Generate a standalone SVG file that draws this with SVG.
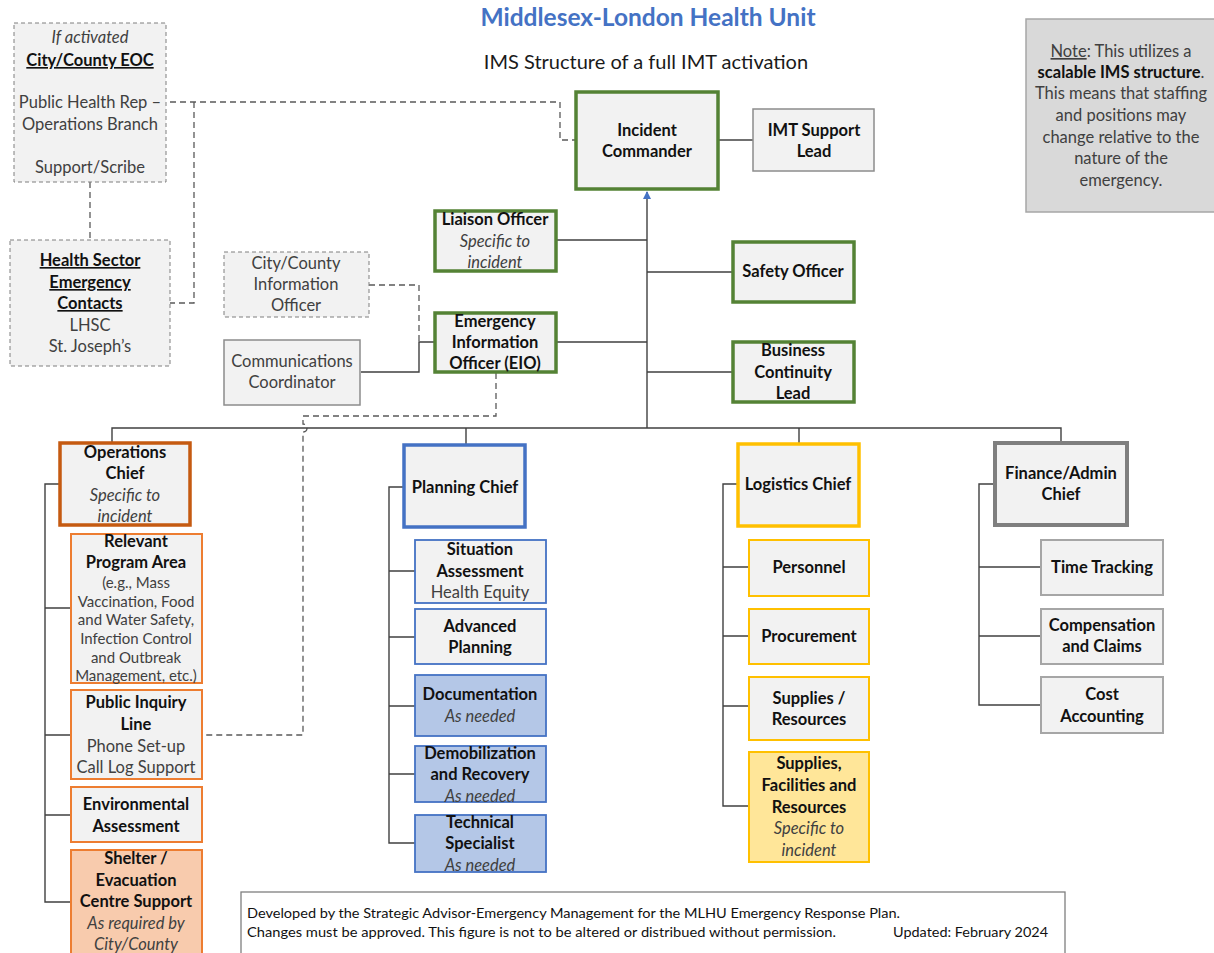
<svg xmlns="http://www.w3.org/2000/svg" width="1214" height="953" viewBox="0 0 1214 953">
<defs>
<marker id="arr" markerWidth="10" markerHeight="10" refX="7" refY="4" orient="auto" markerUnits="userSpaceOnUse">
<path d="M0,0 L8,4 L0,8 Z" fill="#4472c4"/>
</marker>
<style>
.bx{fill:#f2f2f2}
.dsh{stroke:#7f7f7f;stroke-width:1;stroke-dasharray:4,3}
.thin{stroke:#8c8c8c;stroke-width:1.5}
.gr{stroke:#548235;stroke-width:3.5}
.orT{stroke:#c55a11;stroke-width:3.5}
.or{stroke:#ed7d31;stroke-width:2}
.blT{stroke:#4472c4;stroke-width:3.5}
.bl{stroke:#4472c4;stroke-width:1.8}
.goT{stroke:#ffc000;stroke-width:3.5}
.go{stroke:#ffc000;stroke-width:2}
.gyT{stroke:#7f7f7f;stroke-width:4}
.gy{stroke:#a6a6a6;stroke-width:2}
.ln{fill:none;stroke:#404040;stroke-width:1.4}
.dl{fill:none;stroke:#595959;stroke-width:1.3;stroke-dasharray:6,4}
text{font-family:Lato,"Liberation Sans",sans-serif;font-size:16.5px;text-anchor:middle;fill:#404040}
.b{font-weight:bold;fill:#111}
.i{font-style:italic}
.u{text-decoration:underline}
.s{font-size:15px}
</style>
</defs>

<text x="648" y="26" style="font-size:24.5px;font-weight:bold;fill:#4472c4">Middlesex-London Health Unit</text>
<text x="646" y="69" style="font-size:20px;fill:#1a1a1a">IMS Structure of a full IMT activation</text>

<g id="connectors">
<path class="dl" d="M160,102 H560 V140 H576"/>
<path class="dl" d="M194,102 V303 H170"/>
<path class="dl" d="M90,182 V240"/>
<path class="dl" d="M369,285 H419 V342"/>
<path class="ln" d="M361,372 H419 V342 H434"/>
<path class="dl" d="M496,373 V416 H303 V424 A4,4 0 0 1 303,432 V735 H202"/>
<path class="ln" d="M719,140 H753"/>
<path class="ln" d="M647,428 V192" marker-end="url(#arr)"/>
<path class="ln" d="M557,240 H647 M647,272 H732 M557,342 H647 M647,372 H732"/>
<path class="ln" d="M112,442 V428 H1061 V442 M466,428 V444 M799,428 V443"/>
<path class="ln" d="M59,484 H45 V902 H70 M45,608 H70 M45,735 H70 M45,815 H70"/>
<path class="ln" d="M403,487 H389 V843 H415 M389,571 H415 M389,637 H415 M389,706 H415 M389,774 H415"/>
<path class="ln" d="M737,484 H723 V806 H748 M723,567 H748 M723,636 H748 M723,706 H748"/>
<path class="ln" d="M994,484 H979 V705 H1041 M979,567 H1041 M979,636 H1041"/>
</g>

<g id="eoc">
<rect class="bx dsh" x="14" y="23" width="152" height="159"/>
<text x="90" y="43" class="i">If activated</text>
<text x="90" y="66" class="b u">City/County EOC</text>
<text x="90" y="108">Public Health Rep –</text>
<text x="90" y="130">Operations Branch</text>
<text x="90" y="173">Support/Scribe</text>
</g>

<g id="health-sector">
<rect class="bx dsh" x="10" y="240" width="160" height="126"/>
<text x="90" y="266" class="b u">Health Sector</text>
<text x="90" y="288" class="b u">Emergency</text>
<text x="90" y="309" class="b u">Contacts</text>
<text x="90" y="331">LHSC</text>
<text x="90" y="352">St. Joseph’s</text>
</g>

<g id="city-info-officer">
<rect class="bx dsh" x="224" y="252" width="145" height="65"/>
<text x="296" y="269">City/County</text>
<text x="296" y="290">Information</text>
<text x="296" y="311">Officer</text>
</g>

<g id="comms-coordinator">
<rect class="bx thin" x="224" y="340" width="136" height="65"/>
<text x="292" y="367">Communications</text>
<text x="292" y="388">Coordinator</text>
</g>

<g id="incident-commander">
<rect class="bx gr" x="576" y="92" width="142" height="97"/>
<text x="647" y="136" class="b">Incident</text>
<text x="647" y="157" class="b">Commander</text>
</g>

<g id="imt-support">
<rect class="bx thin" x="753" y="109" width="121" height="62"/>
<text x="814" y="136" class="b">IMT Support</text>
<text x="814" y="157" class="b">Lead</text>
</g>

<g id="liaison">
<rect class="bx gr" x="435" y="211" width="121" height="60"/>
<text x="495" y="225" class="b">Liaison Officer</text>
<text x="495" y="247" class="i">Specific to</text>
<text x="495" y="268" class="i">incident</text>
</g>

<g id="eio">
<rect class="bx gr" x="435" y="313" width="121" height="59"/>
<text x="495" y="327" class="b">Emergency</text>
<text x="495" y="348" class="b">Information</text>
<text x="495" y="369" class="b">Officer (EIO)</text>
</g>

<g id="safety">
<rect class="bx gr" x="733" y="242" width="121" height="60"/>
<text x="793" y="277" class="b">Safety Officer</text>
</g>

<g id="business-continuity">
<rect class="bx gr" x="733" y="342" width="121" height="60"/>
<text x="793" y="356" class="b">Business</text>
<text x="793" y="378" class="b">Continuity</text>
<text x="793" y="399" class="b">Lead</text>
</g>

<g id="note">
<rect x="1026" y="19" width="190" height="193" fill="#d9d9d9" stroke="#a6a6a6" stroke-width="1.5"/>
<text x="1121" y="57"><tspan class="u">Note</tspan>: This utilizes a</text>
<text x="1121" y="78"><tspan class="b">scalable IMS structure</tspan>.</text>
<text x="1121" y="99">This means that staffing</text>
<text x="1121" y="121">and positions may</text>
<text x="1121" y="143">change relative to the</text>
<text x="1121" y="164">nature of the</text>
<text x="1121" y="186">emergency.</text>
</g>

<g id="operations-chief">
<rect class="bx orT" x="60" y="443" width="130" height="82"/>
<text x="125" y="458" class="b">Operations</text>
<text x="125" y="479" class="b">Chief</text>
<text x="125" y="501" class="i">Specific to</text>
<text x="125" y="522" class="i">incident</text>
</g>

<g id="relevant-program">
<rect class="bx or" x="71" y="534" width="131" height="149"/>
<text x="136" y="547" class="b">Relevant</text>
<text x="136" y="568" class="b">Program Area</text>
<text x="136" y="588" class="s">(e.g., Mass</text>
<text x="136" y="607" class="s">Vaccination, Food</text>
<text x="136" y="625" class="s">and Water Safety,</text>
<text x="136" y="644" class="s">Infection Control</text>
<text x="136" y="663" class="s">and Outbreak</text>
<text x="136" y="681" class="s">Management, etc.)</text>
</g>

<g id="public-inquiry">
<rect class="bx or" x="71" y="690" width="131" height="89"/>
<text x="136" y="708" class="b">Public Inquiry</text>
<text x="136" y="730" class="b">Line</text>
<text x="136" y="752">Phone Set-up</text>
<text x="136" y="773">Call Log Support</text>
</g>

<g id="environmental">
<rect class="bx or" x="71" y="787" width="131" height="55"/>
<text x="136" y="810" class="b">Environmental</text>
<text x="136" y="832" class="b">Assessment</text>
</g>

<g id="shelter">
<rect x="71" y="850" width="131" height="110" fill="#f8cbad" class="or"/>
<text x="136" y="864" class="b">Shelter /</text>
<text x="136" y="886" class="b">Evacuation</text>
<text x="136" y="907" class="b">Centre Support</text>
<text x="136" y="929" class="i">As required by</text>
<text x="136" y="950" class="i">City/County</text>
</g>

<g id="planning-chief">
<rect class="bx blT" x="404" y="445" width="121" height="82"/>
<text x="465" y="493" class="b">Planning Chief</text>
</g>

<g id="situation-assessment">
<rect class="bx bl" x="415" y="540" width="131" height="63"/>
<text x="480" y="555" class="b">Situation</text>
<text x="480" y="577" class="b">Assessment</text>
<text x="480" y="598">Health Equity</text>
</g>

<g id="advanced-planning">
<rect class="bx bl" x="415" y="609" width="131" height="55"/>
<text x="480" y="632" class="b">Advanced</text>
<text x="480" y="653" class="b">Planning</text>
</g>

<g id="documentation">
<rect x="415" y="675" width="131" height="61" fill="#b4c7e7" class="bl"/>
<text x="480" y="700" class="b">Documentation</text>
<text x="480" y="722" class="i">As needed</text>
</g>

<g id="demobilization">
<rect x="415" y="746" width="131" height="56" fill="#b4c7e7" class="bl"/>
<text x="480" y="759" class="b">Demobilization</text>
<text x="480" y="780" class="b">and Recovery</text>
<text x="480" y="802" class="i">As needed</text>
</g>

<g id="technical-specialist">
<rect x="415" y="815" width="131" height="57" fill="#b4c7e7" class="bl"/>
<text x="480" y="828" class="b">Technical</text>
<text x="480" y="849" class="b">Specialist</text>
<text x="480" y="871" class="i">As needed</text>
</g>

<g id="logistics-chief">
<rect class="bx goT" x="738" y="444" width="121" height="82"/>
<text x="798" y="490" class="b">Logistics Chief</text>
</g>

<g id="personnel">
<rect class="bx go" x="749" y="540" width="120" height="56"/>
<text x="809" y="573" class="b">Personnel</text>
</g>

<g id="procurement">
<rect class="bx go" x="749" y="609" width="120" height="55"/>
<text x="809" y="642" class="b">Procurement</text>
</g>

<g id="supplies-resources">
<rect class="bx go" x="749" y="677" width="120" height="63"/>
<text x="809" y="704" class="b">Supplies /</text>
<text x="809" y="725" class="b">Resources</text>
</g>

<g id="supplies-facilities">
<rect x="749" y="752" width="120" height="110" fill="#ffe699" class="go"/>
<text x="809" y="769" class="b">Supplies,</text>
<text x="809" y="791" class="b">Facilities and</text>
<text x="809" y="813" class="b">Resources</text>
<text x="809" y="834" class="i">Specific to</text>
<text x="809" y="856" class="i">incident</text>
</g>

<g id="finance-chief">
<rect class="bx gyT" x="995" y="443" width="132" height="82"/>
<text x="1061" y="479" class="b">Finance/Admin</text>
<text x="1061" y="500" class="b">Chief</text>
</g>

<g id="time-tracking">
<rect class="bx gy" x="1041" y="540" width="122" height="55"/>
<text x="1102" y="573" class="b">Time Tracking</text>
</g>

<g id="compensation">
<rect class="bx gy" x="1041" y="609" width="122" height="55"/>
<text x="1102" y="631" class="b">Compensation</text>
<text x="1102" y="652" class="b">and Claims</text>
</g>

<g id="cost-accounting">
<rect class="bx gy" x="1041" y="677" width="122" height="56"/>
<text x="1102" y="700" class="b">Cost</text>
<text x="1102" y="722" class="b">Accounting</text>
</g>

<g id="footer">
<rect x="241" y="892" width="824" height="70" fill="#fff" stroke="#7f7f7f" stroke-width="1.3"/>
<text x="247" y="918" style="text-anchor:start;font-size:14px;fill:#111" textLength="653" lengthAdjust="spacingAndGlyphs">Developed by the Strategic Advisor-Emergency Management for the MLHU Emergency Response Plan.</text>
<text x="247" y="937" style="text-anchor:start;font-size:14px;fill:#111" textLength="589" lengthAdjust="spacingAndGlyphs">Changes must be approved. This figure is not to be altered or distribued without permission.</text>
<text x="1048" y="937" style="text-anchor:end;font-size:14px;fill:#111" textLength="155" lengthAdjust="spacingAndGlyphs">Updated: February 2024</text>
</g>
</svg>
